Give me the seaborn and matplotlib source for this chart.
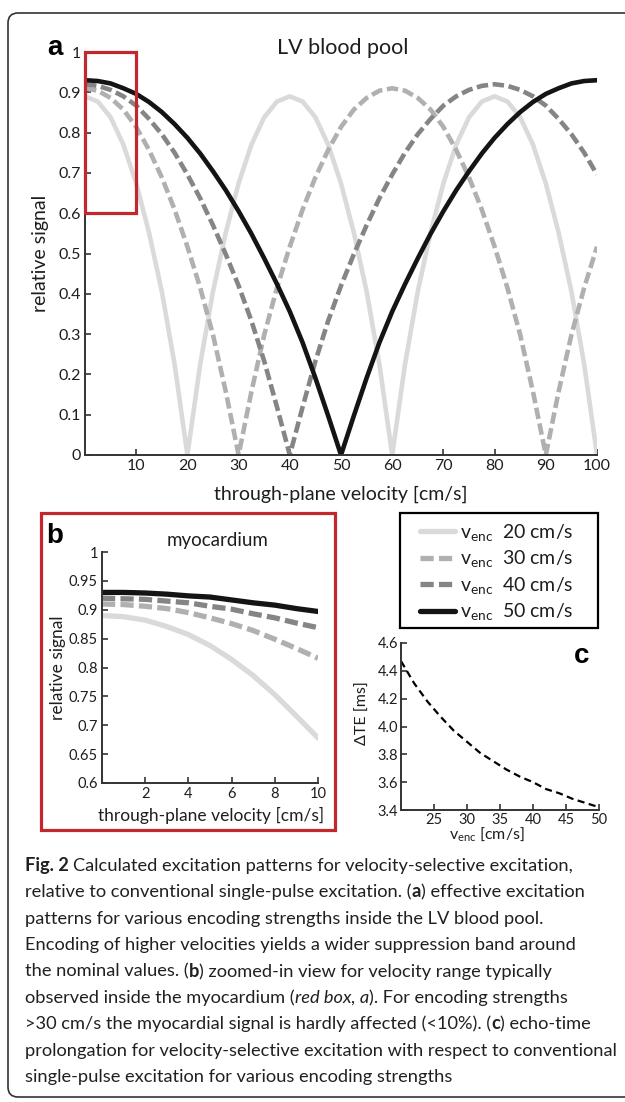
import matplotlib
matplotlib.use("Agg")
import matplotlib.pyplot as plt
import pandas as pd
import seaborn as sns
from matplotlib.patches import Rectangle, FancyBboxPatch
from matplotlib.transforms import IdentityTransform

# ---------------- data ----------------
venc_labels = ["20", "30", "40", "50"]
legend_labels = ["$v_{enc}$  20 cm/s", "$v_{enc}$  30 cm/s",
                 "$v_{enc}$  40 cm/s", "$v_{enc}$  50 cm/s"]

velocity_a = [0, 2.5, 5, 7.5, 10, 12.5, 15, 17.5, 20, 22.5, 25, 27.5, 30,
              32.5, 35, 37.5, 40, 42.5, 45, 47.5, 50, 52.5, 55, 57.5, 60,
              62.5, 65, 67.5, 70, 72.5, 75, 77.5, 80, 82.5, 85, 87.5, 90,
              92.5, 95, 97.5, 100]
signal_a_20 = [0.890, 0.877, 0.838, 0.770, 0.674, 0.552, 0.406, 0.225, 0.000,
               0.225, 0.406, 0.552, 0.674, 0.770, 0.838, 0.877, 0.890,
               0.877, 0.838, 0.770, 0.674, 0.552, 0.406, 0.225, 0.000,
               0.225, 0.406, 0.552, 0.674, 0.770, 0.838, 0.877, 0.890,
               0.877, 0.838, 0.770, 0.674, 0.552, 0.406, 0.225, 0.000]
signal_a_30 = [0.910, 0.904, 0.886, 0.857, 0.814, 0.757, 0.689, 0.609, 0.517,
               0.415, 0.298, 0.157, 0.000,
               0.157, 0.298, 0.415, 0.517, 0.609, 0.689, 0.757, 0.814, 0.857,
               0.886, 0.904, 0.910,
               0.904, 0.886, 0.857, 0.814, 0.757, 0.689, 0.609, 0.517, 0.415,
               0.298, 0.157, 0.000,
               0.157, 0.298, 0.415, 0.517]
signal_a_40 = [0.920, 0.916, 0.906, 0.890, 0.867, 0.834, 0.796, 0.750, 0.696,
               0.637, 0.570, 0.498, 0.420, 0.333, 0.233, 0.119, 0.000,
               0.119, 0.233, 0.333, 0.420, 0.498, 0.570, 0.637, 0.696, 0.750,
               0.796, 0.834, 0.867, 0.890, 0.906, 0.916, 0.920,
               0.916, 0.906, 0.890, 0.867, 0.834, 0.796, 0.750, 0.696]
signal_a_50 = [0.930, 0.928, 0.922, 0.910, 0.896, 0.876, 0.851, 0.821, 0.787,
               0.748, 0.704, 0.657, 0.605, 0.549, 0.488, 0.424, 0.356, 0.279,
               0.191, 0.097, 0.000,
               0.097, 0.191, 0.279, 0.356, 0.424, 0.488, 0.549, 0.605, 0.657,
               0.704, 0.748, 0.787, 0.821, 0.851, 0.876, 0.896, 0.910, 0.922,
               0.928, 0.930]

velocity_b = [0, 1, 2, 3, 4, 5, 6, 7, 8, 9, 10]
signal_b_20 = [0.890, 0.888, 0.882, 0.871, 0.857, 0.838, 0.814, 0.786, 0.753, 0.716, 0.678]
signal_b_30 = [0.910, 0.909, 0.906, 0.902, 0.895, 0.886, 0.876, 0.864, 0.849, 0.833, 0.816]
signal_b_40 = [0.920, 0.919, 0.918, 0.915, 0.912, 0.906, 0.901, 0.893, 0.886, 0.877, 0.869]
signal_b_50 = [0.930, 0.930, 0.929, 0.927, 0.924, 0.922, 0.917, 0.912, 0.908, 0.902, 0.897]

venc_c = [20, 22, 24, 26, 28, 30, 32, 34, 36, 38, 40, 42, 44, 46, 48, 50]
delta_te = [4.47, 4.31, 4.18, 4.07, 3.97, 3.89, 3.81, 3.75, 3.69, 3.64, 3.60,
            3.55, 3.52, 3.48, 3.45, 3.42]

xticks_a = [10, 20, 30, 40, 50, 60, 70, 80, 90, 100]
yticks_a = [0, 0.1, 0.2, 0.3, 0.4, 0.5, 0.6, 0.7, 0.8, 0.9, 1]
ytick_labels_a = ["0", "0.1", "0.2", "0.3", "0.4", "0.5", "0.6", "0.7", "0.8", "0.9", "1"]
xticks_b = [2, 4, 6, 8, 10]
yticks_b = [0.6, 0.65, 0.7, 0.75, 0.8, 0.85, 0.9, 0.95, 1]
ytick_labels_b = ["0.6", "0.65", "0.7", "0.75", "0.8", "0.85", "0.9", "0.95", "1"]
xticks_c = [25, 30, 35, 40, 45, 50]
yticks_c = [3.4, 3.6, 3.8, 4.0, 4.2, 4.4, 4.6]
ytick_labels_c = ["3.4", "3.6", "3.8", "4.0", "4.2", "4.4", "4.6"]

caption_lines = [
    [("Fig. 2 ", "bold", "normal"),
     ("Calculated excitation patterns for velocity-selective excitation,", "normal", "normal")],
    [("relative to conventional single-pulse excitation. (", "normal", "normal"),
     ("a", "bold", "normal"), (") effective excitation", "normal", "normal")],
    [("patterns for various encoding strengths inside the LV blood pool.", "normal", "normal")],
    [("Encoding of higher velocities yields a wider suppression band around", "normal", "normal")],
    [("the nominal values. (", "normal", "normal"), ("b", "bold", "normal"),
     (") zoomed-in view for velocity range typically", "normal", "normal")],
    [("observed inside the myocardium (", "normal", "normal"),
     ("red box, a", "normal", "italic"), ("). For encoding strengths", "normal", "normal")],
    [(">30 cm/s the myocardial signal is hardly affected (<10%). (", "normal", "normal"),
     ("c", "bold", "normal"), (") echo-time", "normal", "normal")],
    [("prolongation for velocity-selective excitation with respect to conventional", "normal", "normal")],
    [("single-pulse excitation for various encoding strengths", "normal", "normal")],
]

# ---------------- style ----------------
W, H = 625, 1102
palette = {"20": "#dadada", "30": "#b0b0b0", "40": "#858585", "50": "#141414"}
dashes = {"20": "", "30": (2.5, 1.0), "40": (2.5, 1.0), "50": ""}
red = "#c1272d"
axis_col = "#333333"
text_col = "#1e1e1e"

sns.set_theme(style="ticks")
plt.rcParams["font.family"] = ["Lato", "DejaVu Sans"]
plt.rcParams["mathtext.default"] = "regular"
plt.rcParams["axes.edgecolor"] = axis_col
plt.rcParams["axes.linewidth"] = 1.4
plt.rcParams["text.color"] = text_col
plt.rcParams["axes.labelcolor"] = text_col
plt.rcParams["xtick.color"] = axis_col
plt.rcParams["ytick.color"] = axis_col
plt.rcParams["xtick.labelcolor"] = text_col
plt.rcParams["ytick.labelcolor"] = text_col

fig = plt.figure(figsize=(W / 100, H / 100), dpi=100)
fig.patch.set_facecolor("white")


def fx(px):
    return px / W


def fy(py):
    return 1 - py / H


def long_df(vel, series):
    return pd.DataFrame({
        "velocity": [v for _ in series for v in vel],
        "signal": [s for ser in series for s in ser],
        "venc": [lab for lab, ser in zip(venc_labels, series) for _ in ser],
    })


def style_axes(ax, labelsize, pad=3):
    sns.despine(ax=ax)
    ax.tick_params(direction="in", length=4, width=1.2, labelsize=labelsize, pad=pad)


# ---------------- panel a ----------------
ax_a = fig.add_axes([fx(85), fy(455), 512 / W, 403 / H])
df_a = long_df(velocity_a, [signal_a_20, signal_a_30, signal_a_40, signal_a_50])
sns.lineplot(data=df_a, x="velocity", y="signal", hue="venc", style="venc",
             hue_order=venc_labels, style_order=venc_labels, palette=palette,
             dashes=dashes, linewidth=3.3, estimator=None, sort=False,
             legend=False, ax=ax_a)
ax_a.set_xlim(0, 100)
ax_a.set_ylim(0, 1)
ax_a.set_xticks(xticks_a)
ax_a.set_yticks(yticks_a)
ax_a.set_yticklabels(ytick_labels_a)
style_axes(ax_a, 11.5)
ax_a.set_xlabel("through-plane velocity [cm/s]", fontsize=14)
ax_a.xaxis.label.set_verticalalignment("baseline")
ax_a.xaxis.set_label_coords(0.5, (455 - 500) / 403)
ax_a.set_ylabel("relative signal", fontsize=14)
ax_a.yaxis.label.set_verticalalignment("baseline")
ax_a.yaxis.set_label_coords((46 - 85) / 512, 0.5)
ax_a.add_patch(Rectangle((0, 0.6), 10, 0.4, fill=False, ec=red, lw=2.3,
                         clip_on=False, zorder=5))
fig.text(fx(343), fy(54), "LV blood pool", fontsize=15.5, ha="center", va="baseline")
fig.text(fx(55), fy(55), "a", fontsize=20, fontweight="bold",
         family="Liberation Sans", ha="center", va="baseline", color="black")

# ---------------- panel b ----------------
ax_b = fig.add_axes([fx(102), fy(783), 216 / W, 231 / H])
df_b = long_df(velocity_b, [signal_b_20, signal_b_30, signal_b_40, signal_b_50])
sns.lineplot(data=df_b, x="velocity", y="signal", hue="venc", style="venc",
             hue_order=venc_labels, style_order=venc_labels, palette=palette,
             dashes=dashes, linewidth=3.8, estimator=None, sort=False,
             legend=False, ax=ax_b)
ax_b.set_xlim(0, 10)
ax_b.set_ylim(0.6, 1)
ax_b.set_xticks(xticks_b)
ax_b.set_yticks(yticks_b)
ax_b.set_yticklabels(ytick_labels_b)
style_axes(ax_b, 10.5)
ax_b.set_xlabel("through-plane velocity [cm/s]", fontsize=12.5)
ax_b.xaxis.label.set_verticalalignment("baseline")
ax_b.xaxis.set_label_coords((211 - 102) / 216, (783 - 821) / 231)
ax_b.set_ylabel("relative signal", fontsize=12.5)
ax_b.yaxis.label.set_verticalalignment("baseline")
ax_b.yaxis.set_label_coords((63 - 102) / 216, 0.5)
fig.text(fx(218), fy(546), "myocardium", fontsize=13.5, ha="center", va="baseline")
fig.text(fx(55), fy(543), "b", fontsize=20, fontweight="bold",
         family="Liberation Sans", ha="center", va="baseline", color="black")
fig.add_artist(Rectangle((fx(41), fy(830)), (335 - 41) / W, (830 - 513) / H,
                         transform=fig.transFigure, fill=False, ec=red, lw=2.3))

# ---------------- legend ----------------
fig.add_artist(Rectangle((fx(400), fy(628)), 198 / W, 115 / H,
                         transform=fig.transFigure, fill=False, ec="black", lw=1.6))
handles = ax_b.get_lines()[:4]
fig.legend(handles, legend_labels, loc="upper left",
           bbox_to_anchor=(fx(420), fy(522)), frameon=False, fontsize=14,
           handlelength=1.8, handletextpad=0.25, labelspacing=0.28,
           borderpad=0, borderaxespad=0)

# ---------------- panel c ----------------
ax_c = fig.add_axes([fx(401), fy(810), 198 / W, 167 / H])
sns.lineplot(x=venc_c, y=delta_te, color="black", linewidth=1.6,
             linestyle=(0, (3.2, 2.0)), ax=ax_c)
ax_c.set_xlim(20, 50)
ax_c.set_ylim(3.4, 4.6)
ax_c.set_xticks(xticks_c)
ax_c.set_yticks(yticks_c)
ax_c.set_yticklabels(ytick_labels_c)
style_axes(ax_c, 10.5, pad=2)
ax_c.set_xlabel("$v_{enc}$ [cm/s]", fontsize=11.5)
ax_c.xaxis.label.set_verticalalignment("baseline")
ax_c.xaxis.set_label_coords((487 - 401) / 198, (810 - 839) / 167)
ax_c.set_ylabel("ΔTE [ms]", fontsize=11.5)
ax_c.yaxis.label.set_verticalalignment("baseline")
ax_c.yaxis.set_label_coords((367 - 401) / 198, (810 - 713) / 167)
fig.text(fx(582), fy(663), "c", fontsize=20, fontweight="bold",
         family="Liberation Sans", ha="center", va="baseline", color="black")

# ---------------- outer frame ----------------
fig.add_artist(FancyBboxPatch((8, H - 1097), 700, 1097 - 13,
                              boxstyle="round,pad=0,rounding_size=10",
                              transform=IdentityTransform(), fill=False,
                              ec="#333333", lw=1.2))

# ---------------- caption ----------------
renderer = fig.canvas.get_renderer()


def advance(txt, **kw):
    a = fig.text(0, 0, "|" + txt + "|", **kw)
    b = fig.text(0, 0, "||", **kw)
    w = a.get_window_extent(renderer).width - b.get_window_extent(renderer).width
    a.remove()
    b.remove()
    return w


cap_font = ["Lato", "DejaVu Sans"]
probe = advance(caption_lines[7][0][0], fontsize=13, family=cap_font)
cap_size = 13 * 592 / probe
baseline0 = 871
for i, segs in enumerate(caption_lines):
    x = 25
    y = baseline0 + i * 26.4
    for txt, weight, style in segs:
        kw = dict(fontsize=cap_size, family=cap_font, fontweight=weight,
                  fontstyle=style, color="#231f20")
        fig.text(fx(x), fy(y), txt, ha="left", va="baseline", **kw)
        x += advance(txt, **kw)

fig.savefig("out.png", dpi=100, facecolor="white")
